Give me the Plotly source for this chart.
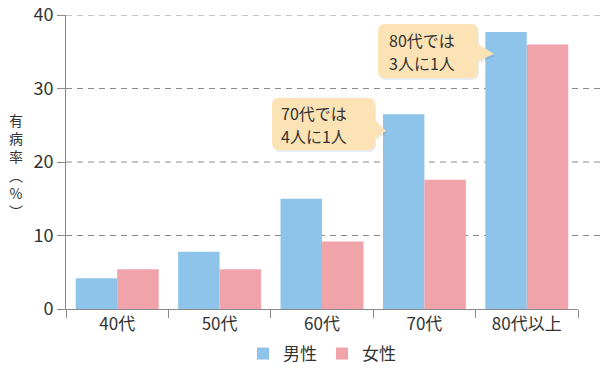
import plotly.graph_objects as go

categories = ["40代", "50代", "60代", "70代", "80代以上"]
male = [4.2, 7.8, 15.0, 26.5, 37.7]
female = [5.4, 5.4, 9.2, 17.6, 36.0]
y_ticks = [0, 10, 20, 30, 40]

FONT = "Noto Sans CJK JP"
W, H = 600, 368
L, R, T, B = 66, 22, 15, 59
PW, PH = W - L - R, H - T - B


def px(x, y):
    return (x - L) / PW, (H - B - y) / PH


def callout(x0, y0, x1, y1, r, ya, yb, tx, ty):
    def P(x, y):
        a, b = px(x, y)
        return f"{a:.5f},{b:.5f}"
    d = f"M {P(x0 + r, y0)} L {P(x1 - r, y0)} Q {P(x1, y0)} {P(x1, y0 + r)} "
    d += f"L {P(x1, ya)} L {P(tx, ty)} L {P(x1, yb)} "
    d += f"L {P(x1, y1 - r)} Q {P(x1, y1)} {P(x1 - r, y1)} L {P(x0 + r, y1)} "
    d += f"Q {P(x0, y1)} {P(x0, y1 - r)} L {P(x0, y0 + r)} Q {P(x0, y0)} {P(x0 + r, y0)} Z"
    return d


fig = go.Figure()
fig.add_trace(go.Bar(x=categories, y=male, name="男性", marker_color="#8FC4EA", marker_line_width=0))
fig.add_trace(go.Bar(x=categories, y=female, name="女性", marker_color="#F1A3AA", marker_line_width=0))

shapes = []
for v in y_ticks[1:]:
    shapes.append(dict(type="line", xref="paper", yref="y", x0=0, x1=(W - L) / PW, y0=v, y1=v,
                       line=dict(color="#8a8a8a", width=1, dash="6px,5px"), layer="below"))

boxes = [
    dict(x0=378, y0=24, x1=478, y1=78, ya=44, yb=61, tx=494, ty=54,
         lines=["80代では", "3人に1人"], tx0=387, ty0=40),
    dict(x0=272, y0=98, x1=375, y1=150, ya=120, yb=138, tx=386, ty=131,
         lines=["70代では", "4人に1人"], tx0=279, ty0=113),
]
annotations = []
for bx in boxes:
    shapes.append(dict(type="path", xref="paper", yref="paper",
                       path=callout(bx["x0"] + 1, bx["y0"] + 2, bx["x1"] + 1, bx["y1"] + 2, 7,
                                    bx["ya"] + 2, bx["yb"] + 2, bx["tx"] + 1, bx["ty"] + 2),
                       fillcolor="rgba(0,0,0,0.08)", line_width=0))
    shapes.append(dict(type="path", xref="paper", yref="paper",
                       path=callout(bx["x0"], bx["y0"], bx["x1"], bx["y1"], 7,
                                    bx["ya"], bx["yb"], bx["tx"], bx["ty"]),
                       fillcolor="#FCE3B6", line_width=0))
    for i, line in enumerate(bx["lines"]):
        ax, ay = px(bx["tx0"], bx["ty0"] + 23 * i)
        annotations.append(dict(xref="paper", yref="paper", x=ax, y=ay, xanchor="left", yanchor="middle",
                                text=line, showarrow=False, align="left",
                                font=dict(family=FONT, size=16, color="#333333")))

yx, yy = px(16, 165)
annotations.append(dict(xref="paper", yref="paper", x=yx, y=yy, xanchor="center", yanchor="middle",
                        text="有<br>病<br>率<br>︵<br>%<br>︶", showarrow=False,
                        font=dict(family=FONT, size=14, color="#333333")))

lx, ly = px(322, 354)
fig.update_layout(
    width=W, height=H,
    margin=dict(l=L, r=R, t=T, b=B, autoexpand=False),
    paper_bgcolor="white", plot_bgcolor="white",
    barmode="group", bargap=0.19, bargroupgap=0,
    font=dict(family=FONT, color="#333333"),
    showlegend=True,
    legend=dict(orientation="h", x=lx, y=ly, xanchor="center", yanchor="middle",
                font=dict(family=FONT, size=17, color="#333333"), itemwidth=30,
                bgcolor="rgba(0,0,0,0)"),
    shapes=shapes,
    annotations=annotations,
    xaxis=dict(type="category", range=[-0.5, 4.5], showline=True, linecolor="#8a8a8a", linewidth=1,
               ticks="outside", ticklen=8, tickcolor="#8a8a8a", tickson="boundaries",
               automargin=False,
               tickfont=dict(family=FONT, size=17, color="#333333"), showgrid=False),
    yaxis=dict(range=[0, 40], tickvals=y_ticks, showline=True, linecolor="#8a8a8a", linewidth=1,
               ticks="outside", ticklen=8, tickcolor="#8a8a8a", showgrid=False, zeroline=False,
               automargin=False,
               tickfont=dict(family=FONT, size=18, color="#333333")),
)

fig.write_html("out.html", config={"displayModeBar": False},
               post_script="document.body.style.margin='0';document.body.style.overflow='hidden';")
